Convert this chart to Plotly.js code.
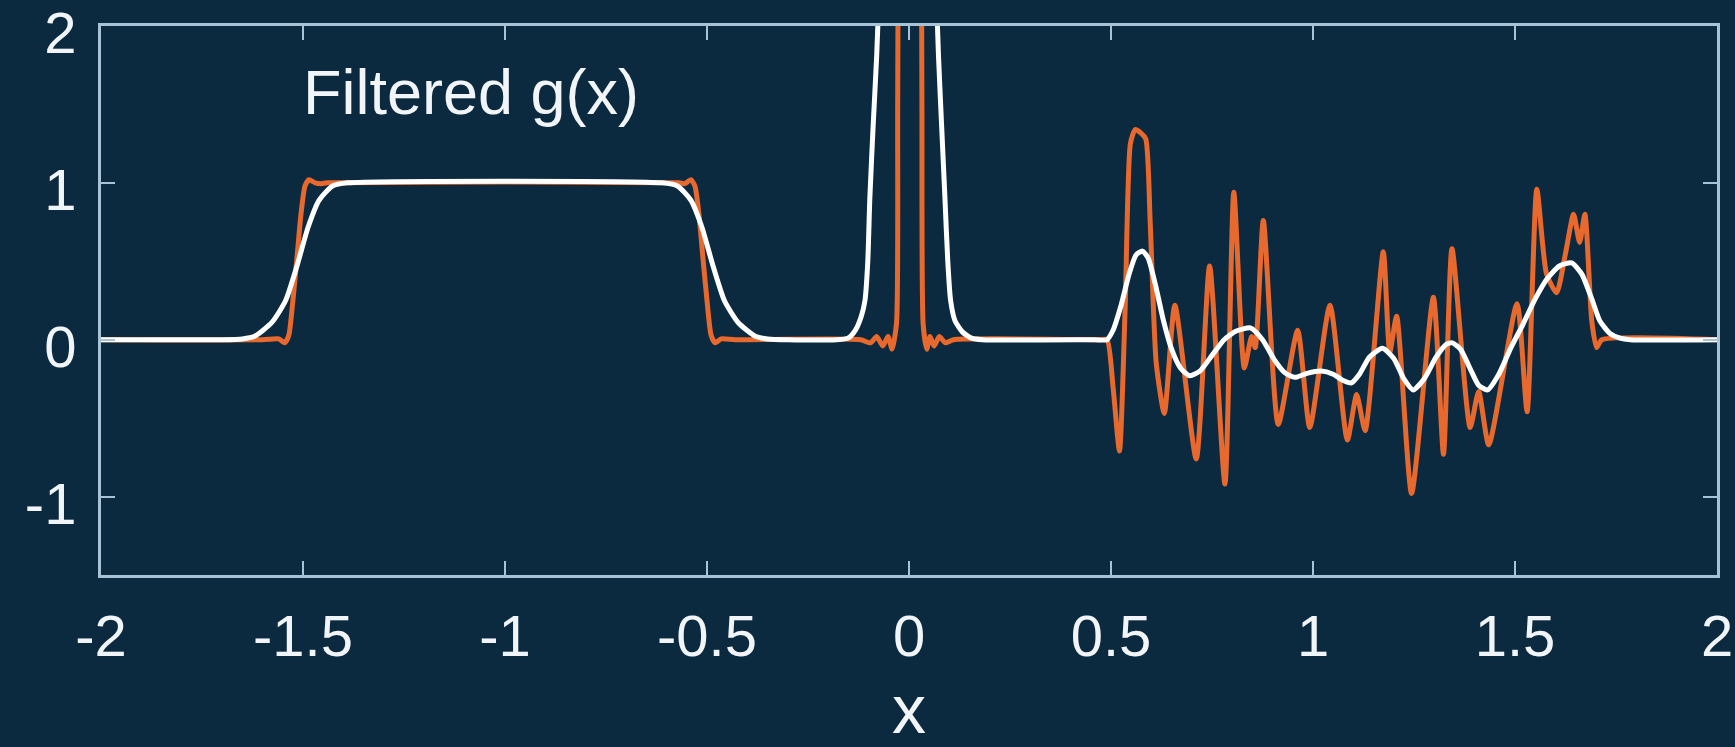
<!DOCTYPE html>
<html>
<head>
<meta charset="utf-8">
<script src="https://cdn.plot.ly/plotly-3.0.1.min.js"></script>
<style>
  html, body { margin: 0; padding: 0; background: #0b2a40; }
  #chart { width: 1735px; height: 747px; }
</style>
</head>
<body>
<div id="chart"></div>
<script>
// ---- tick labels ----
const xTickVals = [-2, -1.5, -1, -0.5, 0, 0.5, 1, 1.5, 2];
const xTickText = ['-2', '-1.5', '-1', '-0.5', '0', '0.5', '1', '1.5', '2'];
const yTickVals = [-1, 0, 1, 2];
const yTickText = ['-1', '0', '1', '2'];

// ---- g(x): original signal (orange) ----
const gX = [-2, -1.6, -1.56, -1.545, -1.535, -1.525, -1.515, -1.505, -1.495, -1.485, -1.47, -1.455, -1.44,
  -0.57, -0.555, -0.54, -0.53, -0.52, -0.51, -0.5, -0.49, -0.48, -0.465, -0.43,
  -0.12, -0.095, -0.08, -0.065, -0.052, -0.042, -0.031, -0.028, -0.025, -0.021,
  0.025, 0.029, 0.032, 0.035, 0.044, 0.052, 0.062, 0.075, 0.09, 0.11,
  0.47, 0.49, 0.505, 0.521, 0.535, 0.548, 0.56, 0.573, 0.586, 0.597, 0.612, 0.632, 0.658,
  0.711, 0.744, 0.782, 0.804, 0.83, 0.848, 0.857, 0.877, 0.914, 0.962, 0.992, 1.042,
  1.085, 1.108, 1.129, 1.174, 1.19, 1.207, 1.244, 1.298, 1.323, 1.344, 1.389, 1.41, 1.435,
  1.505, 1.53, 1.554, 1.578, 1.603, 1.625, 1.645, 1.66, 1.673, 1.69, 1.702, 1.715, 2];
const gY = [0, 0, 0.005, -0.02, 0.03, 0.25, 0.52, 0.8, 0.98, 1.02, 1.0, 0.995, 1.0,
  1.0, 0.995, 1.02, 0.98, 0.8, 0.52, 0.25, 0.03, -0.02, 0.005, 0,
  0, -0.02, 0.02, -0.04, 0.02, -0.06, 0.1, 1.5, 4, 6,
  6, 4, 1.5, 0.1, -0.06, 0.02, -0.04, 0.02, -0.02, 0,
  0, 0, -0.3, -0.71, 0.2, 1.25, 1.34, 1.32, 1.28, 0.75, -0.15, -0.47, 0.22,
  -0.76, 0.47, -0.92, 0.94, -0.18, 0.02, -0.05, 0.76, -0.54, 0.06, -0.56, 0.22,
  -0.64, -0.35, -0.58, 0.56, -0.08, 0.15, -0.98, 0.27, -0.73, 0.58, -0.56, -0.33, -0.67,
  0.23, -0.46, 0.96, 0.42, 0.3, 0.55, 0.8, 0.62, 0.8, 0.12, -0.05, 0, 0];

// ---- filtered g(x) (white) ----
const fX = [-2, -1.7, -1.65, -1.621, -1.577, -1.543, -1.515, -1.487, -1.46, -1.427, -1.389,
  -0.611, -0.573, -0.54, -0.513, -0.485, -0.457, -0.423, -0.379, -0.35, -0.3,
  -0.18, -0.151, -0.133, -0.118, -0.109, -0.102, -0.097, -0.089, -0.08, -0.068, -0.048, -0.003,
  0.042, 0.062, 0.073, 0.081, 0.089, 0.096, 0.103, 0.114, 0.132, 0.155, 0.182,
  0.46, 0.49, 0.505, 0.525, 0.545, 0.562, 0.578, 0.592, 0.61, 0.63, 0.65, 0.672, 0.695, 0.72,
  0.75, 0.78, 0.81, 0.845, 0.875, 0.905, 0.93, 0.955, 0.985, 1.02, 1.05, 1.075, 1.095, 1.115,
  1.14, 1.172, 1.2, 1.225, 1.248, 1.275, 1.305, 1.33, 1.345, 1.365, 1.39, 1.41, 1.432, 1.46,
  1.49, 1.52, 1.55, 1.58, 1.61, 1.64, 1.665, 1.69, 1.71, 1.735, 1.76, 1.785, 2];
const fY = [0, 0, 0.005, 0.02, 0.11, 0.25, 0.47, 0.72, 0.89, 0.98, 1.0,
  1.0, 0.98, 0.89, 0.72, 0.47, 0.25, 0.11, 0.02, 0.005, 0,
  0, 0.01, 0.06, 0.15, 0.25, 0.5, 0.9, 1.35, 1.81, 2.6, 3.5, 4.0,
  3.5, 2.6, 1.81, 1.35, 0.9, 0.5, 0.25, 0.12, 0.05, 0.01, 0,
  0, 0, 0.06, 0.22, 0.42, 0.54, 0.565, 0.52, 0.35, 0.12, -0.06, -0.18, -0.23, -0.2,
  -0.1, 0, 0.055, 0.075, 0, -0.13, -0.21, -0.24, -0.215, -0.2, -0.22, -0.26, -0.275, -0.22,
  -0.11, -0.055, -0.12, -0.25, -0.32, -0.25, -0.11, -0.03, -0.02, -0.06, -0.19, -0.29, -0.32, -0.22,
  -0.05, 0.1, 0.26, 0.39, 0.47, 0.49, 0.42, 0.26, 0.12, 0.04, 0.01, 0, 0];

const labelText = 'Filtered g(x)';
const xTitle = 'x';

// ---- styling ----
const BG = '#0b2a40';
const AXIS = '#a9c3d6';
const TEXT = '#f2f5f8';
const ORANGE = '#e8692d';
const FONT = 'Liberation Sans, Arial, Helvetica, sans-serif';

const traces = [
  { x: gX, y: gY, type: 'scatter', mode: 'lines',
    line: { color: ORANGE, width: 5, shape: 'spline', smoothing: 0.6 }, hoverinfo: 'skip' },
  { x: fX, y: fY, type: 'scatter', mode: 'lines',
    line: { color: '#ffffff', width: 5, shape: 'spline', smoothing: 0.6 }, hoverinfo: 'skip' }
];

const axisCommon = {
  showgrid: false, zeroline: false,
  showline: true, linecolor: AXIS, linewidth: 3, mirror: 'ticks',
  ticks: 'inside', ticklen: 14, tickwidth: 2, tickcolor: AXIS,
  tickfont: { family: FONT, size: 58, color: TEXT },
  ticklabeloverflow: 'allow',
  tickmode: 'array', fixedrange: true
};

const layout = {
  width: 1735, height: 747,
  paper_bgcolor: BG, plot_bgcolor: BG,
  margin: { l: 101, r: 18, t: 26, b: 172 },
  showlegend: false,
  font: { family: FONT, color: TEXT },
  xaxis: Object.assign({}, axisCommon, {
    range: [-2, 2], tickvals: xTickVals, ticktext: xTickText,
    ticklabelstandoff: 8,
    title: { text: xTitle, font: { family: FONT, size: 68, color: TEXT }, standoff: 24 }
  }),
  yaxis: Object.assign({}, axisCommon, {
    range: [-1.5, 2], tickvals: yTickVals, ticktext: yTickText,
    ticklabelstandoff: 10, ticklabelshift: 7
  }),
  annotations: [{
    text: labelText, xref: 'x', yref: 'y', x: -1.505, y: 1.58,
    xanchor: 'left', yanchor: 'middle', showarrow: false,
    font: { family: FONT, size: 63, color: TEXT }
  }]
};

Plotly.newPlot('chart', traces, layout, { staticPlot: true, displayModeBar: false });
</script>
</body>
</html>
